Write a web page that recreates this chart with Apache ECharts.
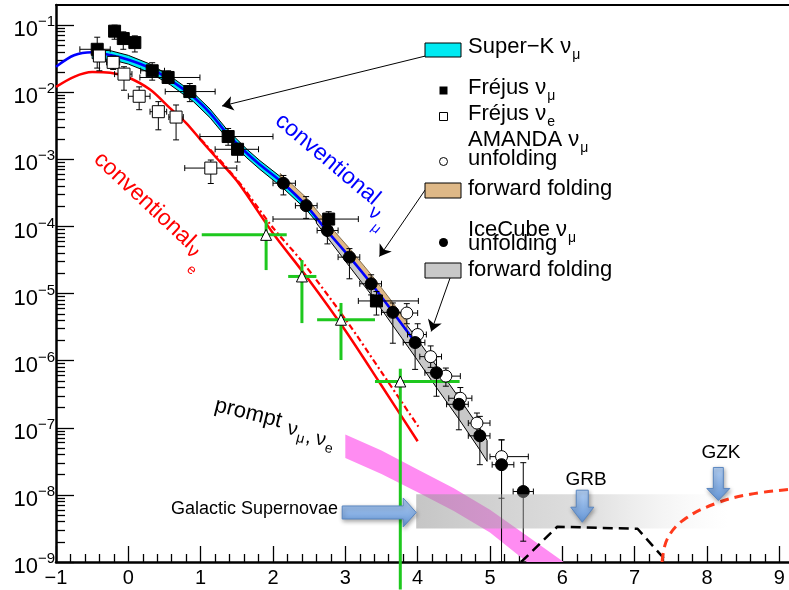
<!DOCTYPE html>
<html>
<head>
<meta charset="utf-8">
<script src="https://cdn.jsdelivr.net/npm/echarts@6/dist/echarts.min.js"></script>
<style>
  html, body { margin: 0; padding: 0; background: #fff; }
  #chart { width: 789px; height: 590px; }
</style>
</head>
<body>
<div id="chart"></div>
<script>
// x: log10(E / GeV), y: log10 of E^2 dN/dE
const FONT = 'Liberation Sans, Arial, Helvetica, sans-serif';

// axis ticks / labels
const xMajor = [-1, 0, 1, 2, 3, 4, 5, 6, 7, 8, 9];
const yMajor = [-9, -8, -7, -6, -5, -4, -3, -2, -1];

// conventional nu_mu (blue line)
const convMuX = [-1.0, -0.75, -0.5, -0.25, 0.0, 0.3, 0.58, 0.9, 1.13, 1.36, 1.64, 1.82, 2.14, 2.46, 2.75, 3.06, 3.36, 3.66, 3.97];
const convMuY = [-1.62, -1.45, -1.405, -1.446, -1.515, -1.64, -1.82, -2.07, -2.31, -2.61, -2.91, -3.08, -3.356, -3.69, -4.07, -4.457, -4.854, -5.28, -5.73];

// conventional nu_e (red line) and the dash-dotted one
const convEX = [-1.0, -0.75, -0.5, -0.25, 0.0, 0.3, 0.58, 0.8, 1.0, 1.22, 1.5, 2.0, 2.5, 3.0, 3.5, 4.0];
const convEY = [-1.92, -1.77, -1.70, -1.71, -1.78, -1.96, -2.24, -2.46, -2.71, -2.98, -3.32, -4.10, -4.80, -5.55, -6.37, -7.20];
const convE2X = [1.0, 1.5, 2.0, 2.4, 3.0, 3.5, 4.02];
const convE2Y = [-2.70, -3.30, -4.02, -4.52, -5.38, -6.17, -7.00];

// Super-K band
const superKX = [-0.5, -0.25, 0.0, 0.3, 0.58, 0.9, 1.13, 1.36, 1.64, 1.82, 2.14, 2.46, 2.75, 2.9];
const superKLo = [-1.50, -1.51, -1.58, -1.71, -1.89, -2.14, -2.38, -2.68, -2.98, -3.15, -3.43, -3.75, -4.12, -4.31];
const superKHi = [-1.37, -1.38, -1.45, -1.58, -1.76, -2.01, -2.25, -2.55, -2.85, -3.02, -3.29, -3.61, -3.98, -4.17];

// AMANDA forward folding band
const amBandX = [2.1, 2.46, 2.75, 3.06, 3.36, 3.66, 3.85];
const amBandLo = [-3.33, -3.70, -4.08, -4.47, -4.86, -5.29, -5.57];
const amBandHi = [-3.21, -3.57, -3.95, -4.33, -4.72, -5.14, -5.42];

// IceCube forward folding band
const icBandX = [2.6, 3.06, 3.36, 3.66, 3.97, 4.26, 4.57, 4.86, 4.96];
const icBandLo = [-3.95, -4.60, -5.02, -5.48, -5.95, -6.40, -6.87, -7.33, -7.50];
const icBandHi = [-3.82, -4.40, -4.78, -5.20, -5.64, -6.08, -6.55, -7.01, -7.19];

// prompt band
const promptHiX = [3.0, 3.5, 4.0, 4.5, 5.0, 5.5, 6.02];
const promptHiY = [-7.10, -7.34, -7.62, -7.90, -8.22, -8.60, -9.0];
const promptLoX = [3.0, 3.5, 4.0, 4.5, 5.0, 5.51];
const promptLoY = [-7.45, -7.69, -7.96, -8.24, -8.56, -9.0];

// Frejus nu_mu
const fmX = [-0.43, -0.19, -0.07, 0.09, 0.33, 0.55, 0.85, 1.38, 1.51, 2.77, 3.43];
const fmY = [-1.36, -1.09, -1.20, -1.26, -1.68, -1.78, -1.99, -2.66, -2.85, -3.89, -5.11];
const fmXlo = [-0.67, -0.19, -0.07, 0.09, 0.17, 0.16, 0.51, 0.99, 1.20, 2.00, 3.18];
const fmXhi = [-0.25, -0.19, -0.07, 0.09, 0.50, 0.99, 1.20, 2.00, 1.80, 3.18, 4.01];
const fmYlo = [-1.64, -1.21, -1.36, -1.40, -1.82, -1.87, -2.14, -2.79, -3.04, -4.03, -5.32];
const fmYhi = [-1.18, -1.00, -1.10, -1.16, -1.56, -1.68, -1.87, -2.54, -2.76, -3.78, -4.97];

// Frejus nu_e
const feX = [-0.40, -0.21, -0.06, 0.15, 0.415, 0.66, 1.14];
const feY = [-1.46, -1.555, -1.73, -2.06, -2.29, -2.37, -3.13];
const feXlo = [-0.40, -0.30, -0.19, 0.00, 0.30, 0.56, 0.78];
const feXhi = [-0.40, -0.12, 0.05, 0.30, 0.53, 0.76, 1.50];
const feYlo = [-1.68, -1.66, -1.97, -2.26, -2.56, -2.71, -3.36];
const feYhi = [-1.30, -1.46, -1.62, -1.92, -2.14, -2.19, -3.01];

// IceCube unfolding
const icX = [2.144, 2.458, 2.752, 3.057, 3.357, 3.657, 3.965, 4.26, 4.57, 4.86, 5.16, 5.46];
const icY = [-3.356, -3.69, -4.06, -4.457, -4.854, -5.28, -5.73, -6.18, -6.65, -7.12, -7.55, -7.95];
const icXlo = [2.00, 2.31, 2.61, 2.90, 3.20, 3.50, 3.80, 4.10, 4.40, 4.70, 5.03, 5.32];
const icXhi = [2.31, 2.61, 2.90, 3.20, 3.50, 3.80, 4.10, 4.40, 4.70, 5.00, 5.33, 5.60];
const icYlo = [-3.53, -3.88, -4.26, -4.78, -5.02, -5.74, -6.13, -6.53, -7.03, -7.55, -9.0, -8.69];
const icYhi = [-3.24, -3.555, -3.88, -4.33, -4.72, -5.14, -5.56, -5.94, -6.48, -6.83, -7.18, -7.52];

// AMANDA unfolding
const amX = [3.85, 4.00, 4.18, 4.39, 4.59, 4.82, 5.16];
const amY = [-5.29, -5.61, -5.94, -6.23, -6.56, -6.93, -7.43];
const amXlo = [3.70, 3.86, 4.03, 4.27, 4.43, 4.70, 5.00];
const amXhi = [4.00, 4.12, 4.33, 4.59, 4.75, 5.00, 5.53];
const amYlo = [-5.45, -5.78, -6.10, -6.38, -6.72, -7.08, -8.05];
const amYhi = [-5.15, -5.45, -5.78, -6.11, -6.40, -6.78, -7.18];

// green crosses
const gX = [1.905, 2.40, 2.94, 3.76];
const gY = [-4.125, -4.745, -5.39, -6.31];
const gXlo = [1.015, 2.21, 2.61, 3.41];
const gXhi = [2.19, 2.60, 3.41, 4.58];
const gYlo = [-4.65, -5.44, -5.99, -9.41];
const gYhi = [-3.90, -4.50, -5.14, -6.12];

// GRB and GZK
const grbX = [5.43, 5.93, 7.04, 7.45];
const grbY = [-9.0, -8.475, -8.505, -9.0];
const gzkX = [7.38, 7.45, 7.68, 8.14, 8.6, 9.13];
const gzkY = [-9.0, -8.66, -8.37, -8.12, -7.99, -7.92];

// galactic supernovae region
const snX = [3.98, 8.3];
const snY = [-8.50, -7.99];

// blue marker arrows (tip positions)
const arrowX = [3.98, 6.276, 8.157];
const arrowY = [-8.262, -8.407, -8.083];

// leader arrows from the legend
const leaders = [
  [[4.104, -1.461], [1.296, -2.205]],
  [[4.104, -3.455], [3.472, -4.448]],
  [[4.449, -4.765], [4.187, -5.564]]
];

const yMinor = [];
yMajor.forEach(d => {
  for (let k = 2; k <= 9; k++) {
    const v = d + Math.log10(k);
    if (v < -0.7) yMinor.push(v);
  }
});
const xMinor = [];
for (let i = -5; i <= 45; i++) {
  if (i % 5 !== 0) xMinor.push(+(i * 0.2).toFixed(2));
}

const X_MIN = -1, X_MAX = 9.134, Y_MIN = -9, Y_MAX = -0.70;

const pairs = (xs, ys) => xs.map((x, i) => [x, ys[i]]);
const rows = (xs, ys, xl, xh, yl, yh) => xs.map((x, i) => [x, ys[i], xl[i], xh[i], yl[i], yh[i]]);

// text width, to put subscripts right after their text
const measureCtx = document.createElement('canvas').getContext('2d');
function textWidth (txt, size) {
  measureCtx.font = size + 'px ' + FONT;
  return measureCtx.measureText(txt).width;
}

function bandRender (topX, topY, botX, botY, style) {
  return function (params, api) {
    const pts = [];
    for (let i = 0; i < topX.length; i++) pts.push(api.coord([topX[i], topY[i]]));
    for (let i = botX.length - 1; i >= 0; i--) pts.push(api.coord([botX[i], botY[i]]));
    return { type: 'polygon', shape: { points: pts }, style: style };
  };
}

function errRender (color, width, cap) {
  return function (params, api) {
    const x = api.value(0);
    const y = api.value(1);
    const p = api.coord([x, y]);
    const l = api.coord([api.value(2), y]);
    const r = api.coord([api.value(3), y]);
    const b = api.coord([x, api.value(4)]);
    const t = api.coord([x, api.value(5)]);
    const st = { stroke: color, lineWidth: width };
    const kids = [];
    if (r[0] - l[0] > 1) {
      kids.push({ type: 'line', shape: { x1: l[0], y1: p[1], x2: r[0], y2: p[1] }, style: st });
      if (cap) {
        kids.push({ type: 'line', shape: { x1: l[0], y1: p[1] - cap, x2: l[0], y2: p[1] + cap }, style: st });
        kids.push({ type: 'line', shape: { x1: r[0], y1: p[1] - cap, x2: r[0], y2: p[1] + cap }, style: st });
      }
    }
    if (b[1] - t[1] > 1) {
      kids.push({ type: 'line', shape: { x1: p[0], y1: b[1], x2: p[0], y2: t[1] }, style: st });
      if (cap) {
        kids.push({ type: 'line', shape: { x1: p[0] - cap, y1: b[1], x2: p[0] + cap, y2: b[1] }, style: st });
        kids.push({ type: 'line', shape: { x1: p[0] - cap, y1: t[1], x2: p[0] + cap, y2: t[1] }, style: st });
      }
    }
    return { type: 'group', children: kids };
  };
}

// arrow shapes in pixels: direction, total length, half shaft, head length, half head
const arrowShapes = [
  { dir: 'right', len: 74, sh: 6.5, hl: 13, hw: 14.5 },
  { dir: 'down', len: 32, sh: 6, hl: 15, hw: 11.5 },
  { dir: 'down', len: 33, sh: 5, hl: 12, hw: 11.5 }
];

function arrowRender (params, api) {
  const s = arrowShapes[params.dataIndex];
  const tip = api.coord([api.value(0), api.value(1)]);
  const tx = tip[0];
  const ty = tip[1];
  let pts;
  if (s.dir === 'right') {
    pts = [[tx - s.len, ty - s.sh], [tx - s.hl, ty - s.sh], [tx - s.hl, ty - s.hw], [tx, ty],
      [tx - s.hl, ty + s.hw], [tx - s.hl, ty + s.sh], [tx - s.len, ty + s.sh]];
  } else {
    pts = [[tx - s.sh, ty - s.len], [tx - s.sh, ty - s.hl], [tx - s.hw, ty - s.hl], [tx, ty],
      [tx + s.hw, ty - s.hl], [tx + s.sh, ty - s.hl], [tx + s.sh, ty - s.len]];
  }
  return {
    type: 'polygon',
    shape: { points: pts },
    style: {
      fill: new echarts.graphic.LinearGradient(0, 0, 0, 1, [
        { offset: 0, color: '#b4d0f4' },
        { offset: 1, color: '#6596d6' }
      ]),
      stroke: '#5a86c0',
      lineWidth: 1,
      shadowBlur: 4,
      shadowOffsetX: 1,
      shadowOffsetY: 2,
      shadowColor: 'rgba(0,0,0,0.35)'
    }
  };
}

function snRender (params, api) {
  const a = api.coord([snX[0], snY[1]]);
  const b = api.coord([snX[1], snY[0]]);
  return {
    type: 'rect',
    shape: { x: a[0], y: a[1], width: b[0] - a[0], height: b[1] - a[1] },
    style: {
      fill: new echarts.graphic.LinearGradient(0, 0, 1, 0, [
        { offset: 0, color: 'rgba(150,150,150,0.55)' },
        { offset: 0.55, color: 'rgba(170,170,170,0.38)' },
        { offset: 1, color: 'rgba(220,220,220,0)' }
      ])
    }
  };
}

const custom = (z, render, data, clip) => ({
  type: 'custom', z: z, renderItem: render, data: data, clip: !!clip,
  encode: { x: 0, y: 1 }, silent: true, animation: false
});

const lineSeries = (xs, ys, color, width, type, z, smooth) => ({
  type: 'line', z: z, data: pairs(xs, ys), showSymbol: false, symbol: 'none',
  smooth: smooth, lineStyle: { color: color, width: width, type: type }, silent: true
});

const scatter = (xs, ys, symbol, size, fill, z) => ({
  type: 'scatter', z: z, data: pairs(xs, ys), symbol: symbol, symbolSize: size,
  itemStyle: { color: fill, borderColor: '#000', borderWidth: 1, opacity: 1 }, silent: true
});

const textEl = (x, y, txt, size, align, color) => ({
  type: 'text', x: x, y: y, z: 100,
  style: {
    text: txt, fontSize: size, fontFamily: FONT, fill: color || '#000',
    align: align, verticalAlign: 'middle', textAlign: align, textVerticalAlign: 'middle'
  }
});

// legend line: main text and an optional subscript placed after it
const LEG_X = 468;
const LEG_SIZE = 22;
function legendText (y, main, sub) {
  const out = [textEl(LEG_X, y, main, LEG_SIZE, 'left')];
  if (sub) out.push(textEl(LEG_X + textWidth(main, LEG_SIZE) + 1, y + 8, sub, 14, 'left'));
  return out;
}

// rotated label made of pieces placed in the label's own frame
const rotLabel = (x, y, angle, color, pieces) => ({
  type: 'group', x: x, y: y, rotation: -angle * Math.PI / 180, z: 100,
  children: pieces.map(p => ({
    type: 'text', x: p[1], y: p[2],
    style: {
      text: p[0], fontSize: p[3], fontFamily: FONT, fill: color,
      align: 'left', verticalAlign: 'middle', textAlign: 'left', textVerticalAlign: 'middle'
    }
  }))
});

const chart = echarts.init(document.getElementById('chart'));

const option = {
  animation: false,
  backgroundColor: '#fff',
  grid: { left: 56, right: 0, top: 5, bottom: 28, containLabel: false, outerBoundsMode: 'none' },
  xAxis: [
    {
      type: 'value', position: 'bottom', min: X_MIN, max: X_MAX,
      axisLine: { show: true, onZero: false, lineStyle: { color: '#000', width: 2.5 } },
      axisTick: { show: true, inside: true, length: 16, customValues: xMajor, lineStyle: { color: '#000', width: 1.3 } },
      axisLabel: {
        show: true, customValues: xMajor, margin: 6, fontSize: 20, fontFamily: FONT, color: '#000',
        formatter: v => (v < 0 ? '\u2212' + (-v) : String(v))
      },
      splitLine: { show: false }
    },
    {
      type: 'value', position: 'bottom', min: X_MIN, max: X_MAX,
      axisLine: { show: false, onZero: false },
      axisTick: { show: true, inside: true, length: 8, customValues: xMinor, lineStyle: { color: '#000', width: 1.3 } },
      axisLabel: { show: false },
      splitLine: { show: false }
    },
    {
      type: 'value', position: 'top', min: X_MIN, max: X_MAX,
      axisLine: { show: true, onZero: false, lineStyle: { color: '#000', width: 2 } },
      axisTick: { show: false },
      axisLabel: { show: false },
      splitLine: { show: false }
    }
  ],
  yAxis: [
    {
      type: 'value', position: 'left', min: Y_MIN, max: Y_MAX,
      axisLine: { show: true, onZero: false, lineStyle: { color: '#000', width: 2.5 } },
      axisTick: { show: true, inside: true, length: 18, customValues: yMajor, lineStyle: { color: '#000', width: 1.3 } },
      axisLabel: {
        show: true, customValues: yMajor, margin: 1,
        formatter: v => '{b|10}{s|' + (v < 0 ? '\u2212' + (-v) : v) + '}',
        rich: {
          b: { fontSize: 22, fontFamily: FONT, color: '#000', lineHeight: 20, padding: [10, 0, 0, 0], verticalAlign: 'middle' },
          s: { fontSize: 15, fontFamily: FONT, color: '#000', lineHeight: 14, padding: [0, 0, 6, 0], verticalAlign: 'middle' }
        }
      },
      splitLine: { show: false }
    },
    {
      type: 'value', position: 'left', min: Y_MIN, max: Y_MAX,
      axisLine: { show: false, onZero: false },
      axisTick: { show: true, inside: true, length: 9, customValues: yMinor, lineStyle: { color: '#000', width: 1.3 } },
      axisLabel: { show: false },
      splitLine: { show: false }
    }
  ],
  series: [
    custom(1, bandRender(promptHiX, promptHiY, promptLoX, promptLoY, { fill: '#ff8cf2' }), [[promptHiX[0], promptHiY[0]]]),
    custom(2, bandRender(superKX, superKHi, superKX, superKLo, { fill: '#00eaf2', stroke: '#000', lineWidth: 1 }), [[superKX[0], superKHi[0]]]),
    custom(2, bandRender(icBandX, icBandHi, icBandX, icBandLo, { fill: '#c8c8c8', stroke: '#000', lineWidth: 1 }), [[icBandX[0], icBandHi[0]]]),
    custom(2, bandRender(amBandX, amBandHi, amBandX, amBandLo, { fill: '#deb887', stroke: '#6b5535', lineWidth: 0.8 }), [[amBandX[0], amBandHi[0]]]),
    lineSeries(convMuX, convMuY, '#0000ff', 2.6, 'solid', 3, 0.3),
    lineSeries(convEX, convEY, '#ff0000', 2.5, 'solid', 3, 0.3),
    lineSeries(convE2X, convE2Y, '#ff0000', 2.2, [6, 3, 2, 3], 3, 0.3),
    custom(4, errRender('#1ec81e', 3, 0), rows(gX, gY, gXlo, gXhi, gYlo, gYhi), false),
    scatter(gX, gY, 'triangle', 11, '#fff', 5),
    custom(5, errRender('#000', 1, 3), rows(fmX, fmY, fmXlo, fmXhi, fmYlo, fmYhi)),
    custom(5, errRender('#000', 1, 3), rows(feX, feY, feXlo, feXhi, feYlo, feYhi)),
    custom(5, errRender('#000', 1, 3), rows(amX, amY, amXlo, amXhi, amYlo, amYhi)),
    custom(5, errRender('#000', 1, 3), rows(icX, icY, icXlo, icXhi, icYlo, icYhi)),
    scatter(fmX, fmY, 'rect', 12, '#000', 6),
    scatter(feX, feY, 'rect', 12, '#fff', 6),
    scatter(amX, amY, 'circle', 12, '#fff', 6),
    scatter(icX, icY, 'circle', 12, '#000', 6),
    custom(7, snRender, [[snX[0], snY[0]]]),
    lineSeries(grbX, grbY, '#000', 2.5, [10, 6], 8, false),
    lineSeries(gzkX, gzkY, '#ff3a1c', 3, [9, 6], 8, 0.4),
    custom(9, arrowRender, pairs(arrowX, arrowY), false),
    {
      type: 'lines', coordinateSystem: 'cartesian2d', z: 9, silent: true,
      symbol: ['none', 'arrow'], symbolSize: 11,
      lineStyle: { color: '#000', width: 1, opacity: 1 },
      data: leaders.map(c => ({ coords: c }))
    }
  ],
  graphic: [
    // legend
    { type: 'rect', z: 100, shape: { x: 425, y: 43, width: 36, height: 14 }, style: { fill: '#00eaf2', stroke: '#000', lineWidth: 1 } },
    ...legendText(47, 'Super\u2212K \u03bd', '\u03bc'),
    { type: 'rect', z: 100, shape: { x: 439.5, y: 86.5, width: 8, height: 8 }, style: { fill: '#000' } },
    ...legendText(88, 'Fréjus \u03bd', '\u03bc'),
    { type: 'rect', z: 100, shape: { x: 439.5, y: 112.5, width: 8, height: 8 }, style: { fill: '#fff', stroke: '#000', lineWidth: 1 } },
    ...legendText(114, 'Fréjus \u03bd', 'e'),
    ...legendText(140, 'AMANDA \u03bd', '\u03bc'),
    { type: 'circle', z: 100, shape: { cx: 443.5, cy: 161.5, r: 4 }, style: { fill: '#fff', stroke: '#000', lineWidth: 1 } },
    ...legendText(159, 'unfolding'),
    { type: 'rect', z: 100, shape: { x: 425, y: 183, width: 36, height: 15 }, style: { fill: '#deb887', stroke: '#000', lineWidth: 1 } },
    ...legendText(189, 'forward folding'),
    ...legendText(230, 'IceCube \u03bd', '\u03bc'),
    { type: 'circle', z: 100, shape: { cx: 443.5, cy: 242.5, r: 4.5 }, style: { fill: '#000' } },
    ...legendText(244, 'unfolding'),
    { type: 'rect', z: 100, shape: { x: 425, y: 263, width: 36, height: 15 }, style: { fill: '#c8c8c8', stroke: '#000', lineWidth: 1 } },
    ...legendText(270, 'forward folding'),

    // annotations
    rotLabel(278, 118, 40, '#0000ff', [['conventional', 0, 0, 23], ['\u03bd', 130, 11, 20], ['\u03bc', 142, 22, 14]]),
    rotLabel(97, 156, 43, '#ff0000', [['conventional', 0, 0, 23], ['\u03bd', 130, 5, 20], ['e', 143, 19, 14]]),
    rotLabel(215, 405, 14, '#000', [['prompt', 0, 0, 22], ['\u03bd', 76, 5, 20], ['\u03bc', 87, 12, 14], [',', 96, 9, 20], ['\u03bd', 106, 8, 20], ['e', 117, 15, 14]]),
    textEl(338, 509, 'Galactic Supernovae', 18, 'right'),
    textEl(586, 480, 'GRB', 19, 'center'),
    textEl(721, 453, 'GZK', 19, 'center')
  ]
};

chart.setOption(option);
window.addEventListener('resize', () => chart.resize());
</script>
</body>
</html>
